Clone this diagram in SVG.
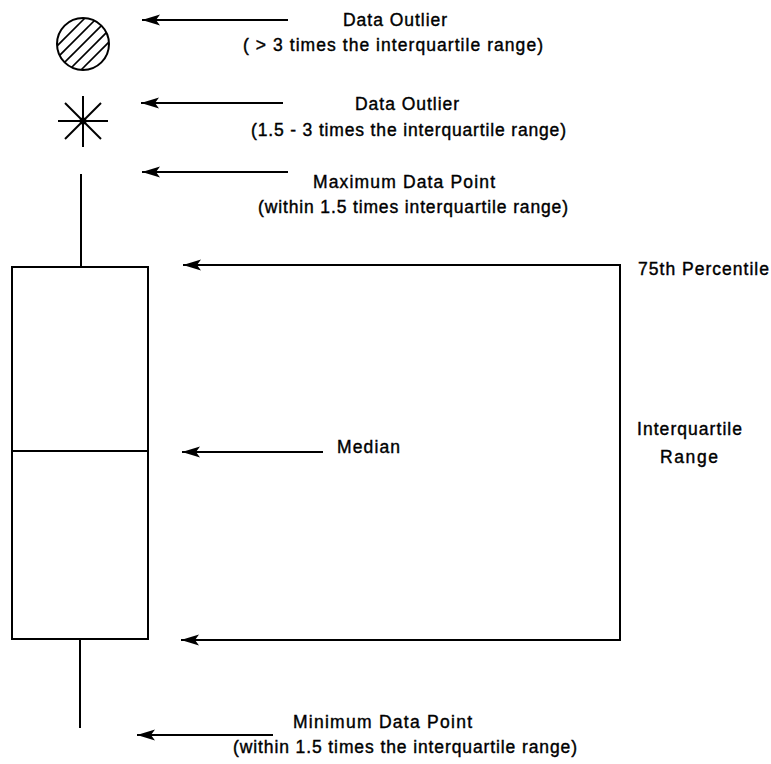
<svg xmlns="http://www.w3.org/2000/svg" width="771" height="764" viewBox="0 0 771 764">
  <style>
    .ln { fill: none; stroke: #000; stroke-width: 2; }
    .arr { fill: none; stroke: #000; stroke-width: 2; marker-end: url(#ah); }
    .lbl { font-family: "Liberation Sans", Arial, sans-serif; font-size: 17.5px; fill: #000; stroke: #000; stroke-width: 0.4; }
  </style>
  <defs>
    <marker id="ah" viewBox="0 0 18 12" refX="18" refY="6" markerWidth="18" markerHeight="12" markerUnits="userSpaceOnUse" orient="auto-start-reverse">
      <path d="M0,0.5 L18,6 L0,11.5 L4,6 Z" fill="#000"/>
    </marker>
    <clipPath id="cc"><circle cx="83" cy="44" r="26"/></clipPath>
  </defs>
  <rect width="771" height="764" fill="#fff"/>

  <g id="outlier-extreme">
    <g clip-path="url(#cc)" stroke="#000" stroke-width="1.6">
      <line x1="23" y1="80" x2="95" y2="8"/>
      <line x1="35" y1="80" x2="107" y2="8"/>
      <line x1="47" y1="80" x2="119" y2="8"/>
      <line x1="59" y1="80" x2="131" y2="8"/>
      <line x1="71" y1="80" x2="143" y2="8"/>
    </g>
    <circle cx="83" cy="44" r="26" class="ln" stroke-width="2.6"/>
  </g>

  <g id="outlier-mild" class="ln">
    <line x1="58" y1="121" x2="108" y2="121"/>
    <line x1="83" y1="96" x2="83" y2="147"/>
    <line x1="65" y1="103" x2="101" y2="139"/>
    <line x1="65" y1="139" x2="101" y2="103"/>
    <circle cx="83" cy="121" r="2.5" fill="#000"/>
  </g>

  <g id="boxplot" class="ln">
    <line x1="81" y1="174" x2="81" y2="267"/>
    <rect x="12" y="267" width="136" height="372"/>
    <line x1="12" y1="451" x2="148" y2="451"/>
    <line x1="80" y1="639" x2="80" y2="728"/>
  </g>

  <g id="connectors">
    <path class="arr" d="M288,20 H142"/>
    <path class="arr" d="M283,103 H141"/>
    <path class="arr" d="M288,172 H142"/>
    <path class="arr" d="M183,265 H620 V640 H181" style="marker-start:url(#ah)"/>
    <path class="arr" d="M323,452 H182"/>
    <path class="arr" d="M273,735 H137"/>
  </g>

  <g id="label-outlier-extreme">
    <text class="lbl" x="343" y="26" textLength="104" lengthAdjust="spacing">Data Outlier</text>
    <text class="lbl" x="243" y="51" textLength="300" lengthAdjust="spacing">( &gt; 3 times the interquartile range)</text>
  </g>
  <g id="label-outlier-mild">
    <text class="lbl" x="355" y="110" textLength="104" lengthAdjust="spacing">Data Outlier</text>
    <text class="lbl" x="251" y="136" textLength="315" lengthAdjust="spacing">(1.5 - 3 times the interquartile range)</text>
  </g>
  <g id="label-maximum">
    <text class="lbl" x="313" y="188" textLength="182" lengthAdjust="spacing">Maximum Data Point</text>
    <text class="lbl" x="258" y="213" textLength="310" lengthAdjust="spacing">(within 1.5 times interquartile range)</text>
  </g>
  <g id="label-75th">
    <text class="lbl" x="638" y="275" textLength="131" lengthAdjust="spacing">75th Percentile</text>
  </g>
  <g id="label-median">
    <text class="lbl" x="337" y="453" textLength="63" lengthAdjust="spacing">Median</text>
  </g>
  <g id="label-iqr">
    <text class="lbl" x="637" y="435" textLength="105" lengthAdjust="spacing">Interquartile</text>
    <text class="lbl" x="660" y="463" textLength="58" lengthAdjust="spacing">Range</text>
  </g>
  <g id="label-minimum">
    <text class="lbl" x="293" y="728" textLength="179" lengthAdjust="spacing">Minimum Data Point</text>
    <text class="lbl" x="233" y="753" textLength="344" lengthAdjust="spacing">(within 1.5 times the interquartile range)</text>
  </g>
</svg>
